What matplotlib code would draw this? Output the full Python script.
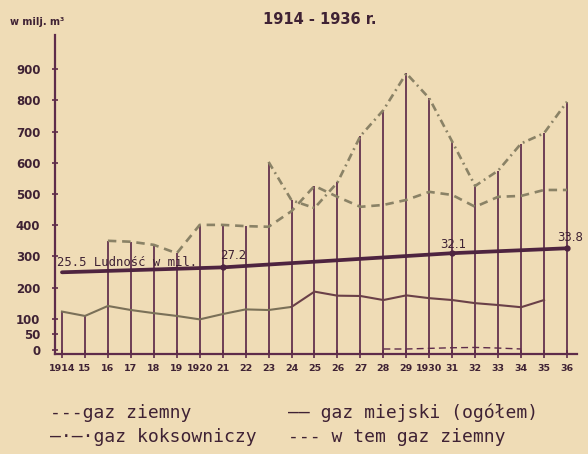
import numpy as np
import matplotlib
matplotlib.use("Agg")
import matplotlib.pyplot as plt

# ---- data ----
years = np.arange(1914, 1937)
year_labels = ["1914", "15", "16", "17", "18", "19", "1920", "21", "22", "23", "24",
               "25", "26", "27", "28", "29", "1930", "31", "32", "33", "34", "35", "36"]
nan = np.nan
# gaz ziemny (dashed)
gaz_ziemny = [nan, nan, 350, 347, 337, 310, 401, 401, 397, 395, 445,
              526, 491, 459, 465, 481, 507, 497, 459, 491, 494, 513, 513]
# gaz koksowniczy (dash-dot)
gaz_koks = [nan, nan, nan, nan, nan, nan, nan, nan, nan, 603, 480,
            455, 537, 686, 769, 887, 807, 668, 526, 575, 662, 695, 796]
# gaz miejski (ogolem) (solid)
gaz_miejski = [123, 109, 141, 128, 118, 109, 98, 115, 130, 128, 138,
               187, 174, 173, 160, 175, 166, 160, 150, 144, 137, 160, nan]
# w tem gaz ziemny (small dashed)
wtem_years = [1928, 1929, 1930, 1931, 1932, 1933, 1934]
wtem_ziemny = [3, 3, 5, 7, 8, 6, 3]
# population (millions)
pop_years = [1914, 1921, 1931, 1936]
pop_values = [25.5, 27.2, 32.1, 33.8]
pop_labels = ["25.5 Ludność w mil.", "27.2", "32.1", "33.8"]
yticks = [0, 50, 100, 200, 300, 400, 500, 600, 700, 800, 900]

# ---- style ----
BG = "#efdcb6"
INK = "#3f2234"
VLINE = "#5e2c4a"
GREY = "#8a8266"
OLIVE = "#7a7058"
SOLID = "#6a4048"
POP = "#4e2440"

fig = plt.figure(figsize=(5.88, 4.54), dpi=100, facecolor=BG)
ax = fig.add_axes([0.0935, 0.2203, 0.8878, 0.7026], facecolor=BG)
ax.set_xlim(1913.695, 1936.436)
ax.set_ylim(-13, 1010)

zi = np.array(gaz_ziemny, float)
ko = np.array(gaz_koks, float)
mi = np.array(gaz_miejski, float)
tops = np.nanmax(np.vstack([zi, ko, mi]), axis=0)
ax.vlines(years, ax.get_ylim()[0], tops, color=VLINE, lw=1.25, zorder=2)

ax.plot(years, zi, color=GREY, lw=1.9, ls=(0, (3.2, 2.2)), zorder=3)
ax.plot(years, ko, color=GREY, lw=1.9, ls=(0, (3, 1.6, 0.7, 1.6)), zorder=3)
# gaz miejski: early part drawn in olive ink, later part in purple ink
ax.plot(years[:11], mi[:11], color=OLIVE, lw=1.5, zorder=3)
ax.plot(years[10:], mi[10:], color=SOLID, lw=1.5, zorder=3)
ax.plot(wtem_years, wtem_ziemny, color=VLINE, lw=1.0, ls=(0, (5, 3)), zorder=3)

ax2 = ax.twinx()
ax2.set_ylim(-2.73, 107.5)
ax2.plot(pop_years, pop_values, color=POP, lw=2.7, solid_capstyle="round", zorder=4)
ax2.plot(pop_years[1:], pop_values[1:], "o", color=POP, ms=3.5, zorder=4)
offsets = [(-5, 10), (11, 12), (1, 9), (3, 11)]
has = ["left", "center", "center", "center"]
fams = [["DejaVu Sans Mono"], ["DejaVu Sans"], ["DejaVu Sans"], ["DejaVu Sans"]]
sizes = [8.8, 8.5, 8.5, 8.5]
for x, y, lab, off, ha, fam, fs in zip(pop_years, pop_values, pop_labels, offsets, has, fams, sizes):
    ax2.annotate(lab, (x, y), xytext=off, textcoords="offset pixels",
                 ha=ha, va="center", fontsize=fs, color=INK, family=fam)
ax2.axis("off")

for s in ["top", "right"]:
    ax.spines[s].set_visible(False)
for s in ["left", "bottom"]:
    ax.spines[s].set_color(VLINE)
    ax.spines[s].set_linewidth(1.6)

ax.set_xticks(years)
ax.set_xticklabels(year_labels, fontsize=6.8, fontweight="bold", color=INK)
ax.set_yticks(yticks)
ax.set_yticklabels([str(v) for v in yticks], fontsize=8.5, fontweight="bold", color=INK)
ax.tick_params(axis="x", direction="inout", length=6, width=1.2, color=VLINE, pad=4)
ax.tick_params(axis="y", direction="inout", length=5, width=1.2, color=VLINE, pad=8)

fig.text(320 / 588, 1 - 20 / 454, "1914 - 1936 r.", ha="center", va="center",
         fontsize=10.5, fontweight="semibold", color=INK)
fig.text(10 / 588, 1 - 22 / 454, "w milj. m³", ha="left", va="center",
         fontsize=7, fontweight="bold", color=INK)

leg = [
    (50, 413, "---gaz ziemny"),
    (50, 437, "—·—·gaz koksowniczy"),
    (288, 413, "—— gaz miejski (ogółem)"),
    (288, 437, "--- w tem gaz ziemny"),
]
for x, y, t in leg:
    fig.text(x / 588, 1 - y / 454, t, ha="left", va="center", fontsize=13,
             color=INK, family=["DejaVu Sans Mono"])

fig.savefig("out.png", dpi=100, facecolor=BG)
